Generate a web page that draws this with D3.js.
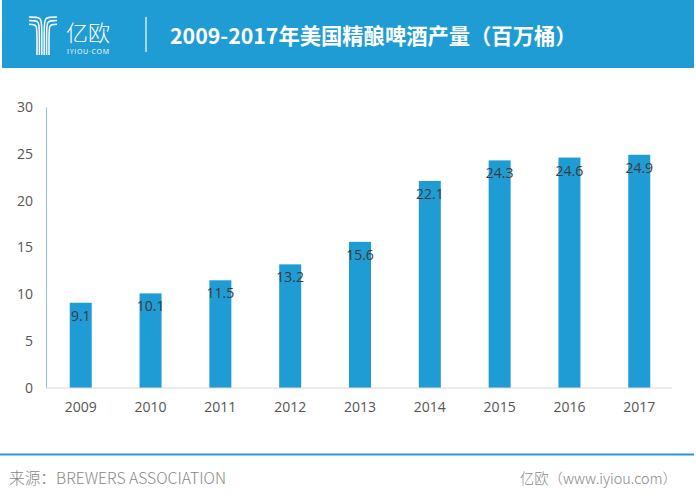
<!DOCTYPE html>
<html><head><meta charset="utf-8">
<script src="https://cdn.jsdelivr.net/npm/d3@7"></script>
<style>body{margin:0;background:#fff}svg{display:block}</style>
</head><body>
<svg id="c" width="696" height="500"></svg>
<script>
const years = ["2009","2010","2011","2012","2013","2014","2015","2016","2017"];
const values = [9.1,10.1,11.5,13.2,15.6,22.1,24.3,24.6,24.9];
const yTicks = [0,5,10,15,20,25,30];
const title = "2009-2017年美国精酿啤酒产量（百万桶）";
const source = "来源：BREWERS ASSOCIATION";
const credit = "亿欧（www.iyiou.com）";

const svg = d3.select("#c");
const blue = "#1f9cd4";
const W = 696, H = 500;
const m = {left:46, right:22, top:107, bottom:112};

// header
svg.append("rect").attr("x",2).attr("y",0).attr("width",692).attr("height",68).attr("fill",blue);
// logo
const lg = svg.append("g").attr("fill","none").attr("stroke","#fff").attr("stroke-width",1.5);
[0,1,2].forEach(i=>{
  const y0 = 17 + 3.6*i;
  const sl = 41.8 - 2.4*i, sr = 44.2 + 2.4*i;
  lg.append("path").attr("d",`M29,${y0} C${sl},${y0} ${sl},${y0} ${sl},${y0+16} L${sl},55`);
  lg.append("path").attr("d",`M57,${y0} C${sr},${y0} ${sr},${y0} ${sr},${y0+16} L${sr},55`);
});
svg.append("text").attr("x",66).attr("y",41).attr("fill","#fff").attr("font-family","Noto Sans CJK SC").attr("font-weight",300).attr("font-size",22).text("亿欧");
svg.append("text").attr("x",67).attr("y",54).attr("fill","#fff").attr("font-family","Open Sans").attr("font-size",7).attr("letter-spacing",0.7).text("IYIOU·COM");
svg.append("line").attr("x1",146).attr("x2",146).attr("y1",17).attr("y2",52).attr("stroke","#fff").attr("stroke-width",1.2);
svg.append("text").attr("x",170).attr("y",44).attr("fill","#fff").attr("font-family","Noto Sans CJK SC").attr("font-weight",700).attr("font-size",21.3).text(title);

// scales
const x = d3.scaleBand().domain(years).range([m.left, W-m.right]).paddingInner(0.685).paddingOuter(0.34);
const y = d3.scaleLinear().domain([0,30]).range([H-m.bottom, m.top]);

// bars
svg.append("g").selectAll("rect").data(values).join("rect")
  .attr("x",(d,i)=>x(years[i])).attr("width",x.bandwidth())
  .attr("y",d=>y(d)).attr("height",d=>y(0)-y(d)).attr("fill",blue);
svg.append("g").selectAll("text").data(values).join("text")
  .attr("x",(d,i)=>x(years[i])+x.bandwidth()/2).attr("y",d=>y(d)+18)
  .attr("text-anchor","middle").attr("font-family","Open Sans").attr("font-size",14).attr("fill","#3a3a3a")
  .text(d=>d.toFixed(1));

// axes
const ya = svg.append("g").attr("transform",`translate(${m.left},0)`)
  .call(d3.axisLeft(y).tickValues(yTicks).tickSize(0).tickPadding(13));
ya.select(".domain").attr("stroke","#8fc3e0");
ya.selectAll("text").attr("font-family","Open Sans").attr("font-size",14).attr("fill","#555");
const xa = svg.append("g").attr("transform",`translate(0,${y(0)})`)
  .call(d3.axisBottom(x).tickSize(0).tickPadding(14));
xa.select(".domain").attr("stroke","#d9d9d9").attr("d",`M${m.left},0H${W-m.right-2}`);
xa.selectAll("text").attr("font-family","Open Sans").attr("font-size",14).attr("fill","#555");

// footer
svg.append("line").attr("x1",0).attr("x2",694).attr("y1",454.5).attr("y2",454.5).attr("stroke",blue).attr("stroke-width",2);
svg.append("text").attr("x",9).attr("y",484).attr("fill","#888").attr("font-family","Noto Sans CJK SC").attr("font-weight",300).attr("font-size",15.7).text(source);
svg.append("text").attr("x",677).attr("y",484).attr("text-anchor","end").attr("fill","#888").attr("font-family","Noto Sans CJK SC").attr("font-weight",300).attr("font-size",14.4).text(credit);
</script>
</body></html>
